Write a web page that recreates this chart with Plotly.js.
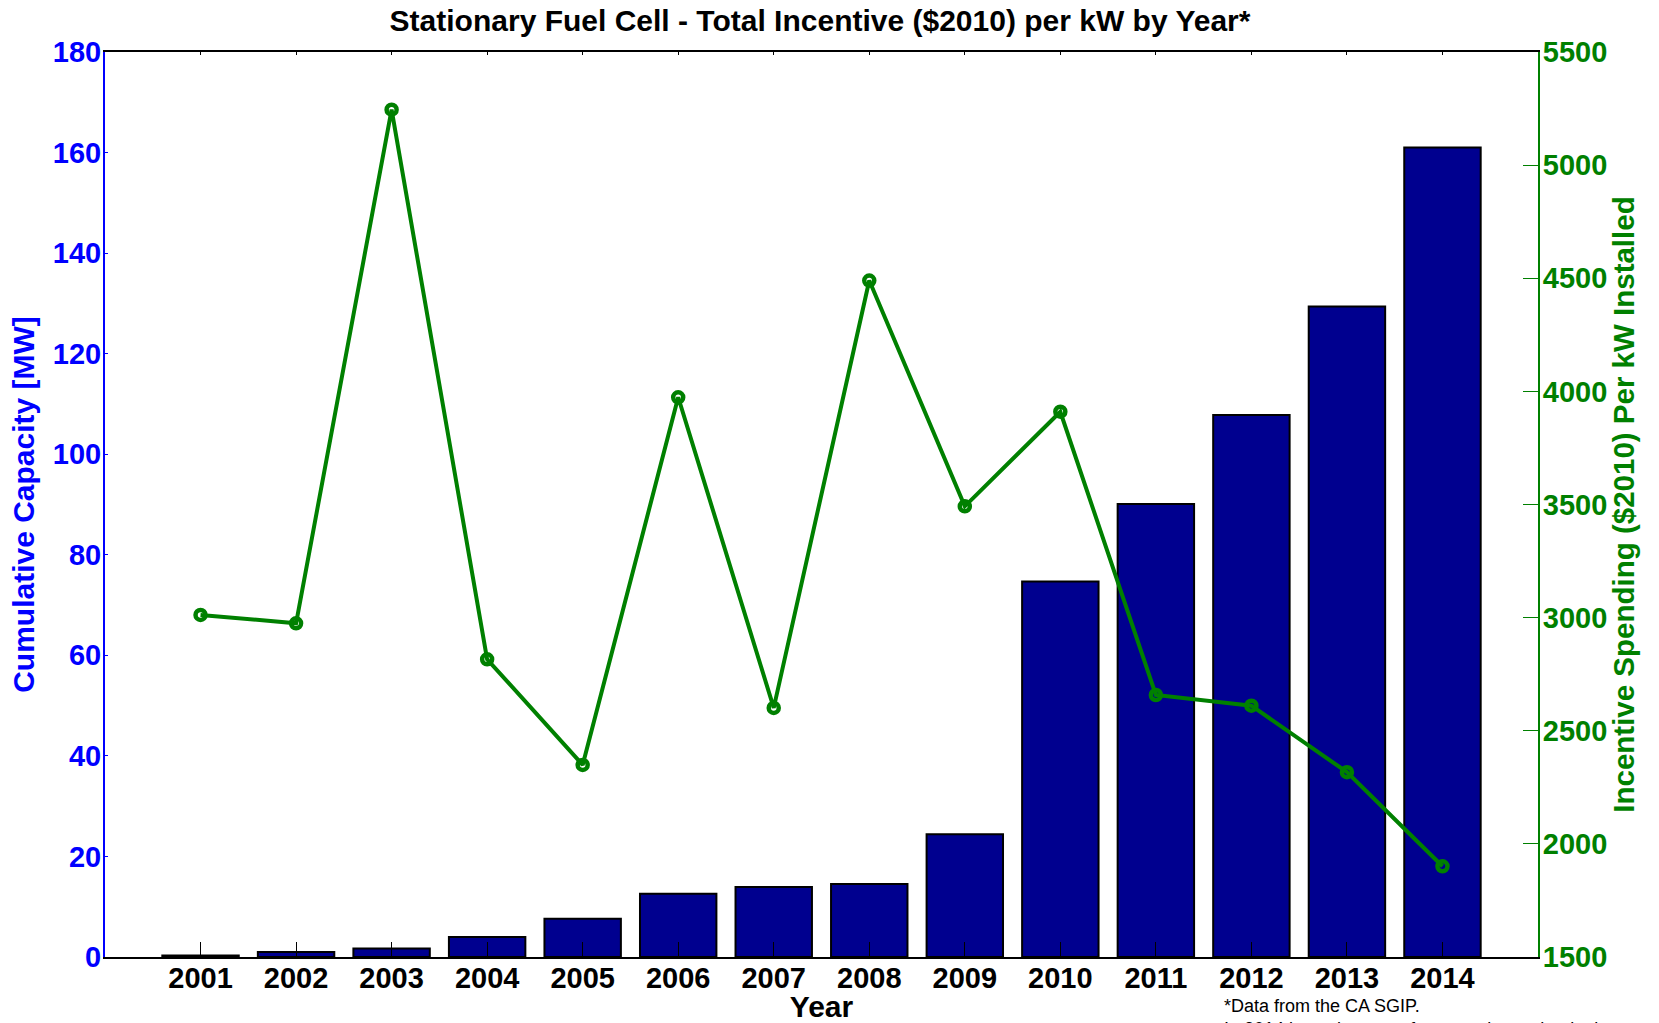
<!DOCTYPE html>
<html>
<head>
<meta charset="utf-8">
<script src="https://cdn.plot.ly/plotly-3.0.1.min.js"></script>
<style>
  html, body { margin: 0; padding: 0; background: #ffffff; }
  #chart { width: 1659px; height: 1023px; }
</style>
</head>
<body>
<div id="chart"></div>
<script>
// ---- data ----
const years = [2001, 2002, 2003, 2004, 2005, 2006, 2007, 2008, 2009, 2010, 2011, 2012, 2013, 2014];
const cumulativeCapacityMW = [0.3, 1.0, 1.7, 4.0, 7.6, 12.6, 13.9, 14.5, 24.4, 74.7, 90.1, 107.8, 129.4, 161.0];
const incentivePerKW = [3012, 2975, 5245, 2816, 2349, 3974, 2601, 4490, 3492, 3910, 2658, 2611, 2317, 1901];
const leftTicks = [0, 20, 40, 60, 80, 100, 120, 140, 160, 180];
const rightTicks = [1500, 2000, 2500, 3000, 3500, 4000, 4500, 5000, 5500];

const FONT = 'Liberation Sans, Arial, Helvetica, sans-serif';
const BLUE = '#0000ff';
const GREEN = '#008000';
const NAVY = '#00008f';

const bars = {
  type: 'bar',
  x: years,
  y: cumulativeCapacityMW,
  width: 0.8,
  marker: { color: NAVY, line: { color: '#000000', width: 2 } },
  xaxis: 'x', yaxis: 'y',
  hoverinfo: 'x+y'
};

const line = {
  type: 'scatter',
  mode: 'lines+markers',
  x: years,
  y: incentivePerKW,
  line: { color: GREEN, width: 4 },
  marker: { symbol: 'circle-open', size: 10, color: GREEN, line: { color: GREEN, width: 4.5 } },
  xaxis: 'x2', yaxis: 'y2',
  hoverinfo: 'x+y'
};

const layout = {
  width: 1659,
  height: 1023,
  paper_bgcolor: '#ffffff',
  plot_bgcolor: '#ffffff',
  showlegend: false,
  bargap: 0,
  margin: { l: 105, r: 121, t: 52, b: 66, pad: 0 },
  font: { family: FONT, color: '#000000' },
  title: {
    text: 'Stationary Fuel Cell - Total Incentive ($2010) per kW by Year*',
    font: { family: FONT, size: 30, weight: 'bold', color: '#000000' },
    xref: 'container', yref: 'container',
    x: 0.4943, xanchor: 'center',
    y: 0.9795, yanchor: 'middle'
  },
  xaxis: {
    range: [2000, 2015],
    tickmode: 'array',
    tickvals: years,
    ticktext: years.map(String),
    ticks: 'inside', ticklen: 15, tickwidth: 1, tickcolor: '#000000',
    showline: true, linecolor: '#000000', linewidth: 2,
    showgrid: false, zeroline: false,
    tickfont: { family: FONT, size: 29, weight: 'bold', color: '#000000' },
    ticklabelstandoff: -6,
    title: { text: 'Year', font: { family: FONT, size: 30, weight: 'bold', color: '#000000' }, standoff: 11 },
    fixedrange: true
  },
  xaxis2: {
    range: [2000, 2015],
    overlaying: 'x', side: 'top', anchor: 'y2',
    tickmode: 'array', tickvals: years,
    ticks: 'inside', ticklen: 3, tickcolor: '#000000',
    showticklabels: false,
    showline: true, linecolor: '#000000', linewidth: 2,
    showgrid: false, zeroline: false,
    fixedrange: true
  },
  yaxis: {
    range: [0, 180],
    tickmode: 'array', tickvals: leftTicks,
    ticks: 'inside', ticklen: 3, tickcolor: BLUE,
    showline: true, linecolor: BLUE, linewidth: 2,
    showgrid: false, zeroline: false,
    tickfont: { family: FONT, size: 29, weight: 'bold', color: BLUE },
    ticklabelstandoff: -4,
    title: { text: 'Cumulative Capacity [MW]', font: { family: FONT, size: 30, weight: 'bold', color: BLUE }, standoff: 9 },
    fixedrange: true
  },
  yaxis2: {
    range: [1500, 5500],
    overlaying: 'y', side: 'right', anchor: 'x2',
    tickmode: 'array', tickvals: rightTicks,
    ticks: 'inside', ticklen: 15, tickcolor: GREEN,
    showline: true, linecolor: GREEN, linewidth: 2,
    showgrid: false, zeroline: false,
    tickfont: { family: FONT, size: 29, weight: 'bold', color: GREEN },
    ticklabelstandoff: -3,
    title: { text: 'Incentive Spending ($2010) Per kW Installed', font: { family: FONT, size: 29.5, weight: 'bold', color: GREEN }, standoff: 6 },
    fixedrange: true
  },
  annotations: [{
    xref: 'paper', yref: 'paper',
    x: 0.7795, y: -0.041, xanchor: 'left', yanchor: 'top',
    align: 'left', showarrow: false,
    text: '*Data from the CA SGIP.<br>In 2014 incentive rates for emerging technologies',
    font: { family: FONT, size: 18, color: '#000000' }
  }]
};

Plotly.newPlot('chart', [bars, line], layout, { displayModeBar: false, staticPlot: true });
</script>
</body>
</html>
